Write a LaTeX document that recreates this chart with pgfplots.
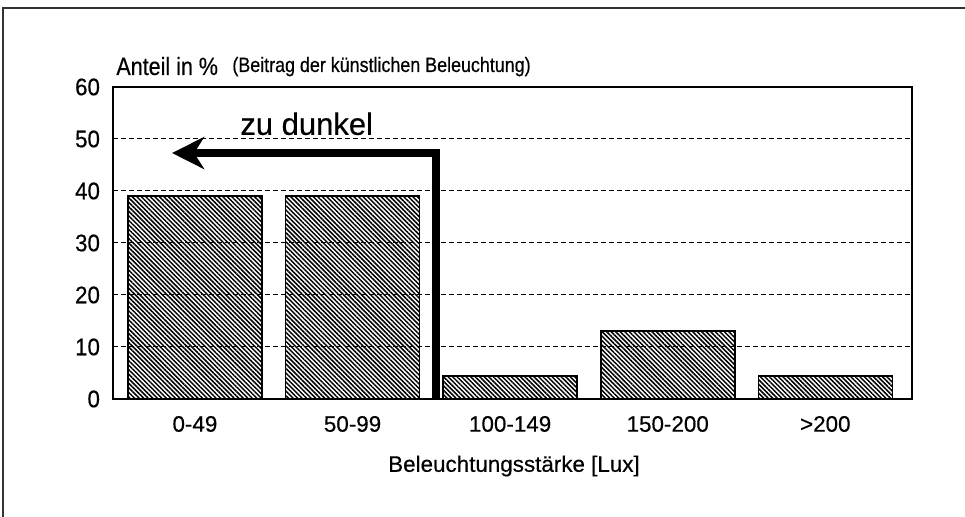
\documentclass[border=0pt]{standalone}
\usepackage{fontspec}
\setmainfont[FakeBold=0.4]{Liberation Sans}
\newfontfamily\narrowfont[FakeStretch=0.86,FakeBold=0.4]{Liberation Sans}
\newfontfamily\tickfont[FakeStretch=0.93,FakeBold=0.4]{Liberation Sans}
\usepackage{pgfplots}
\pgfplotsset{compat=1.18}
\usetikzlibrary{patterns.meta,arrows.meta}

\begin{document}
\begin{tikzpicture}
\useasboundingbox (0,0) rectangle (482.5pt,-258.5pt);
% outer frame (cut at right and bottom)
\draw[line width=1pt, black!80] (1.5pt,-258.5pt) -- (1.5pt,-4pt) -- (482.5pt,-4pt);

\begin{axis}[
    scale only axis,
    width=399.5pt, height=156pt,
    at={(56.5pt,-199.5pt)}, anchor=south west,
    xmin=-0.52, xmax=4.55,
    ymin=0, ymax=60,
    ytick={0,10,...,60},
    xtick={0,...,4},
    xticklabels={0-49,50-99,100-149,150-200,>200},
    major tick length=0pt,
    ymajorgrids,
    grid style={black, line width=0.5pt, dash pattern=on 2.5pt off 1.5pt},
    axis line style={line width=0.8pt},
    yticklabel style={font=\tickfont\fontsize{12}{14}\selectfont, xshift=-3pt},
    xticklabel style={font=\fontsize{11.2}{14}\selectfont, yshift=-5pt},
    /pgf/number format/assume math mode=true,
    ybar, bar width=0.85,
    clip=false,
]
\addplot[draw=black, line width=0.8pt,
    pattern={Lines[angle=-45,distance=1.6pt,line width=0.75pt]}]
    coordinates {(0,39) (1,39) (2,4.4) (3,13.1) (4,4.4)};

\draw[line width=4.2pt, line join=miter,
    -{Stealth[length=16pt,width=16pt,inset=5pt]}]
    (axis cs:1.53,0) -- (axis cs:1.53,47.3) -- (axis cs:-0.145,47.3);
\node[anchor=base, inner sep=0pt] at (axis cs:0.709,50.8)
    {\fontsize{15.5}{18}\selectfont zu dunkel};
\end{axis}

\node[anchor=base west, inner sep=0pt, font=\narrowfont\fontsize{12.5}{14}\selectfont]
    at (58pt,-37.5pt) {Anteil in \%};
\node[anchor=base west, inner sep=0pt, font=\narrowfont\fontsize{10.4}{12}\selectfont]
    at (116pt,-36pt) {(Beitrag der künstlichen Beleuchtung)};
\node[font=\fontsize{11.2}{14}\selectfont] at (257pt,-233pt) {Beleuchtungsstärke [Lux]};
\end{tikzpicture}
\end{document}
